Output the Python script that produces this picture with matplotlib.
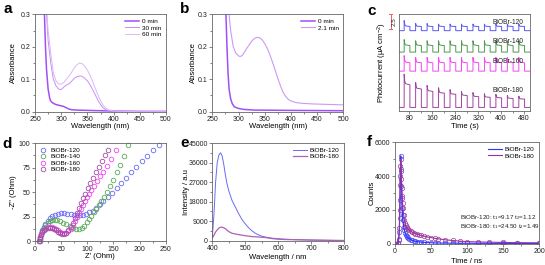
import matplotlib
matplotlib.use('Agg')
import matplotlib.pyplot as plt
from matplotlib.ticker import MultipleLocator

plt.rcParams['font.family'] = ['Liberation Sans', 'DejaVu Sans']
plt.rcParams['mathtext.fontset'] = 'custom'
plt.rcParams['mathtext.rm'] = 'Liberation Sans'
plt.rcParams['mathtext.it'] = 'Liberation Sans:italic'
plt.rcParams['mathtext.bf'] = 'Liberation Sans:bold'

# ---------------- data ----------------
# (a) absorbance, degradation
wl_a0 = [266, 268, 270, 272, 275, 278, 280, 283, 286, 290, 295, 300, 305, 310, 315, 320, 330, 350, 400, 450, 500]
abs_a0 = [0.36, 0.30, 0.20, 0.13, 0.07, 0.042, 0.033, 0.028, 0.025, 0.022, 0.020, 0.018, 0.016, 0.012, 0.008, 0.006, 0.005, 0.004, 0.002, 0.001, 0.001]
wl_a = [269, 272, 275, 280, 285, 290, 295, 300, 305, 310, 315, 320, 325, 330, 335, 340, 345, 350, 355, 360, 365, 370, 375, 380, 385, 390, 400, 420, 450, 500]
abs_a30 = [0.36, 0.30, 0.22, 0.15, 0.10, 0.080, 0.070, 0.068, 0.076, 0.082, 0.086, 0.094, 0.103, 0.108, 0.110, 0.109, 0.103, 0.095, 0.083, 0.068, 0.052, 0.036, 0.022, 0.012, 0.006, 0.003, 0.001, 0.0, 0.0, 0.0]
abs_a60 = [0.38, 0.32, 0.25, 0.18, 0.12, 0.095, 0.085, 0.085, 0.090, 0.100, 0.110, 0.122, 0.135, 0.145, 0.150, 0.148, 0.140, 0.128, 0.112, 0.093, 0.072, 0.052, 0.034, 0.020, 0.011, 0.006, 0.002, 0.001, 0.0, 0.0]

# (b)
wl_b0 = [275, 276, 278, 280, 282, 285, 288, 292, 300, 310, 330, 400, 500]
abs_b0 = [0.36, 0.30, 0.20, 0.12, 0.07, 0.040, 0.025, 0.015, 0.010, 0.007, 0.005, 0.004, 0.003]
wl_b = [280, 282, 285, 290, 295, 300, 303, 307, 310, 315, 320, 325, 330, 335, 340, 345, 350, 355, 360, 365, 370, 375, 380, 385, 390, 395, 400, 410, 420, 440, 460, 480, 500]
abs_b21 = [0.36, 0.30, 0.25, 0.20, 0.18, 0.172, 0.170, 0.173, 0.180, 0.193, 0.205, 0.217, 0.225, 0.229, 0.228, 0.222, 0.210, 0.195, 0.175, 0.152, 0.128, 0.103, 0.080, 0.060, 0.047, 0.038, 0.033, 0.028, 0.026, 0.024, 0.023, 0.022, 0.021]

# (c) photocurrent, on/off pulses (light on at each start, 20 s)
pulse_on = [62, 102, 142, 182, 222, 262, 302, 342, 382, 422, 462]
pulse_len = 20
c_names = ['BiOBr-120', 'BiOBr-140', 'BiOBr-160', 'BiOBr-180']
c_base = [13.5, 9.9, 6.7, 0.6]
c_spike = [
    [15.2, 14.7, 14.7, 14.6, 14.6, 14.6, 14.6, 14.6, 14.6, 14.6, 14.6],
    [12.0, 11.8, 11.8, 11.8, 11.8, 11.8, 11.8, 11.8, 11.8, 11.8, 11.8],
    [9.3, 9.0, 9.0, 9.0, 9.0, 9.0, 9.0, 9.0, 9.0, 9.0, 9.0],
    [6.2, 4.8, 4.3, 3.9, 3.6, 3.3, 3.1, 2.9, 2.8, 2.6, 2.5],
]
c_plateau = [
    [14.2, 14.2, 14.2, 14.2, 14.2, 14.2, 14.2, 14.2, 14.2, 14.2, 14.2],
    [11.0, 11.0, 11.0, 11.0, 11.0, 11.0, 11.0, 11.0, 11.0, 11.0, 11.0],
    [8.1, 8.1, 8.1, 8.1, 8.1, 8.1, 8.1, 8.1, 8.1, 8.1, 8.1],
    [4.4, 3.7, 3.3, 3.0, 2.8, 2.6, 2.4, 2.3, 2.2, 2.1, 2.0],
]

# (d) Nyquist
d120_x = [9, 10, 12, 14, 17, 20, 24, 28, 33, 38, 44, 50, 56, 62, 68, 74, 80, 86, 92, 98, 104, 110, 117, 124, 131, 139, 147, 156, 165, 174, 184, 194, 205, 215, 226, 237]
d120_y = [0, 3, 7, 11, 15, 18, 21, 23.5, 25.5, 27, 28, 28.5, 28.5, 28, 27.5, 27, 26.5, 26.5, 27, 28, 29.5, 31, 34, 37.5, 41, 45, 49, 54, 59, 64, 70, 75.5, 81.5, 87, 93, 98]
d140_x = [9, 10, 12, 14, 17, 20, 24, 28, 33, 38, 43, 48, 54, 60, 66, 72, 78, 84, 89, 94, 99, 104, 108, 113, 117, 122, 127, 132, 137, 143, 149, 156, 163, 170, 178]
d140_y = [0, 3, 7, 10.5, 14, 16.5, 19, 20.5, 21.5, 22, 21.5, 20.5, 19, 17.5, 15.5, 14, 13, 13, 14, 16, 19.5, 23, 26, 30, 33, 37, 41, 45.5, 50, 56, 62, 70, 78, 87, 98]
d160_x = [8, 9, 10, 12, 14, 17, 20, 24, 28, 32, 36, 40, 44, 48, 52, 56, 60, 64, 68, 72, 76, 80, 84, 88, 92, 96, 100, 104, 108, 113, 118, 124, 130, 137, 145, 155]
d160_y = [0, 2, 4, 7, 9.5, 11.5, 13, 14.5, 15, 15, 14, 12.5, 11, 9.5, 8.5, 8, 8.5, 10, 13, 17, 21, 25, 29, 33, 37, 41, 45, 48, 52, 56.5, 61, 66, 71, 77, 84, 93]
d180_x = [8, 9, 10, 12, 14, 17, 20, 24, 28, 32, 36, 40, 44, 48, 52, 56, 60, 64, 68, 72, 76, 80, 84, 88, 92, 96, 101, 106, 111, 116, 122, 128, 134, 139]
d180_y = [0, 2, 4, 6.5, 9, 11, 12.5, 13.5, 14, 13.5, 12.5, 11, 9.5, 8, 7.5, 7.5, 8.5, 11, 14.5, 19, 24, 29, 34, 39, 44, 48.5, 54, 59, 64.5, 70, 76, 82, 88, 93]

# (e) PL
pl_wl = [400, 405, 410, 415, 420, 425, 430, 435, 440, 445, 450, 460, 470, 480, 490, 500, 510, 520, 530, 540, 550, 560, 580, 600, 620, 650, 700, 750, 800]
pl_120 = [1500, 12000, 27000, 36000, 39500, 40500, 39000, 35000, 30000, 26000, 23000, 18500, 15500, 12500, 9800, 7800, 6000, 4600, 3500, 2700, 2100, 1700, 1200, 900, 700, 500, 300, 150, 50]
pl_180 = [1200, 2500, 4000, 5000, 5800, 6200, 6200, 5900, 5500, 4800, 4200, 3400, 3100, 2800, 2550, 2300, 2100, 1900, 1800, 1700, 1600, 1500, 1000, 700, 550, 450, 300, 200, 100]

# (f) TRPL
tr_t = [2, 4, 5, 6, 6.5, 7, 7.5, 8, 8.5, 9, 9.5, 10, 10.5, 11, 12, 13, 14, 15, 16, 17, 18, 20, 22, 24, 26, 28, 30, 33, 36, 40, 45, 50, 55, 60, 70, 80, 90, 100, 115, 130, 150, 170, 200]
tr_120 = [0, 30, 200, 700, 1500, 2600, 4000, 5200, 4300, 3400, 2700, 2100, 1700, 1400, 1000, 800, 650, 540, 460, 400, 350, 290, 240, 200, 170, 150, 130, 110, 95, 80, 65, 55, 48, 42, 35, 30, 27, 25, 22, 20, 18, 16, 15]
tr_180 = [0, 50, 300, 900, 2000, 3500, 4600, 5000, 4400, 3800, 3300, 2800, 2400, 2100, 1700, 1400, 1200, 1080, 980, 920, 870, 790, 730, 680, 640, 600, 570, 530, 490, 450, 400, 360, 320, 290, 230, 190, 150, 125, 105, 90, 75, 60, 50]

# ---------------- layout ----------------
W, H = 545, 265
fig = plt.figure(figsize=(5.45, 2.65), dpi=100)


def rect(l, r, t, b):
    return [l / W, 1 - b / H, (r - l) / W, (b - t) / H]


def style(ax):
    for s in ax.spines.values():
        s.set_linewidth(0.6)
        s.set_color('#666666')
    ax.tick_params(which='both', direction='out', width=0.5, color='#555555',
                   labelsize=5, pad=1.2, length=2, labelcolor='#222222')
    ax.tick_params(which='minor', length=1.2)


LFS = 5.5


def labels(ax, xl, yl, xy, yx):
    ax.set_xlabel(xl, fontsize=LFS, va='center')
    ax.set_ylabel(yl, fontsize=LFS, va='center')
    ax.xaxis.set_label_coords(0.5, xy)
    ax.yaxis.set_label_coords(yx, 0.5)


def leg(ax, **kw):
    opts = dict(frameon=False, fontsize=4.6, handlelength=2.2, handletextpad=0.5,
                labelspacing=0.15, borderaxespad=0.3)
    opts.update(kw)
    return ax.legend(**opts)


# (a)
axa = fig.add_axes(rect(35, 166, 14.3, 111.7))
axa.plot(wl_a0, abs_a0, color='#a050f5', lw=1.1, label='0 min')
axa.plot(wl_a, abs_a30, color='#c890f5', lw=0.7, label='30 min')
axa.plot(wl_a, abs_a60, color='#dcb6fa', lw=0.7, label='60 min')
axa.set_xlim(250, 500)
axa.set_ylim(0, 0.3)
axa.xaxis.set_major_locator(MultipleLocator(50))
axa.xaxis.set_minor_locator(MultipleLocator(25))
axa.yaxis.set_major_locator(MultipleLocator(0.1))
axa.yaxis.set_minor_locator(MultipleLocator(0.05))
style(axa)
labels(axa, 'Wavelength (nm)', 'Absorbance', -0.15, -0.166)
leg(axa, loc='upper right')

# (b)
axb = fig.add_axes(rect(212.3, 343.3, 14.3, 111.7))
axb.plot(wl_b0, abs_b0, color='#a050f5', lw=1.1, label='0 min')
axb.plot(wl_b, abs_b21, color='#cc99f5', lw=0.8, label='2.1 min')
axb.set_xlim(250, 500)
axb.set_ylim(0, 0.3)
axb.xaxis.set_major_locator(MultipleLocator(50))
axb.xaxis.set_minor_locator(MultipleLocator(25))
axb.yaxis.set_major_locator(MultipleLocator(0.1))
axb.yaxis.set_minor_locator(MultipleLocator(0.05))
style(axb)
labels(axb, 'Wavelength (nm)', 'Absorbance', -0.15, -0.142)
leg(axb, loc='upper right')

# (c)
axc = fig.add_axes(rect(399, 530, 14, 111))
c_colors = ['#5a5af5', '#4f9a4f', '#f545f5', '#a044a0']
c_lab_y = [14.8, 11.65, 8.3, 3.4]
for name, base, sp, pl, col, ly in zip(c_names, c_base, c_spike, c_plateau, c_colors, c_lab_y):
    xs, ys = [44], [base]
    for s, a, b in zip(pulse_on, sp, pl):
        xs += [s, s, s + 2, s + 5, s + pulse_len, s + pulse_len]
        ys += [base, a, b + 0.35 * (a - b), b + 0.1 * (a - b), b, base]
    xs.append(501)
    ys.append(base)
    axc.plot(xs, ys, color=col, lw=0.7)
    axc.text(479, ly, name, fontsize=4.8, ha='right', va='center', color='#222222')
axc.set_xlim(44, 501)
axc.set_ylim(0, 16.3)
axc.xaxis.set_major_locator(MultipleLocator(80))
axc.xaxis.set_minor_locator(MultipleLocator(40))
axc.set_yticks([])
style(axc)
labels(axc, 'Time (s)', 'Photocurrent (μA cm$^{-2}$)', -0.162, -0.13)
# scale bar 2.5
axc.plot([-0.062, -0.062], [13.8, 16.3], color='#f06060', lw=0.7, clip_on=False,
         transform=axc.get_yaxis_transform())
for yy in (13.8, 16.3):
    axc.plot([-0.074, -0.050], [yy, yy], color='#f06060', lw=0.7, clip_on=False,
             transform=axc.get_yaxis_transform())
axc.text(-0.035, 15.05, '2.5', rotation=90, fontsize=4.5, ha='center', va='center',
         transform=axc.get_yaxis_transform(), color='#222222')

# (d)
axd = fig.add_axes(rect(35, 165.7, 143, 241.3))
d_sets = [(d120_x, d120_y, '#6a6af5', 'BiOBr-120'), (d140_x, d140_y, '#5aaa5a', 'BiOBr-140'),
          (d160_x, d160_y, '#f545f5', 'BiOBr-160'), (d180_x, d180_y, '#a050a0', 'BiOBr-180')]
for xs, ys, col, name in d_sets:
    axd.plot(xs, ys, 'o', ms=3.3, mfc='none', mec=col, mew=0.6, label=name, clip_on=False)
axd.set_xlim(0, 250)
axd.set_ylim(0, 100)
axd.xaxis.set_major_locator(MultipleLocator(50))
axd.xaxis.set_minor_locator(MultipleLocator(25))
axd.yaxis.set_major_locator(MultipleLocator(25))
axd.yaxis.set_minor_locator(MultipleLocator(12.5))
style(axd)
labels(axd, "Z' (Ohm)", '-Z" (Ohm)', -0.153, -0.166)
leg(axd, loc='upper left', handlelength=1.2, handletextpad=0.6)

# (e)
axe = fig.add_axes(rect(212.3, 344, 143, 240.7))
axe.plot(pl_wl, pl_120, color='#6a6af5', lw=0.7, label='BiOBr-120')
axe.plot(pl_wl, pl_180, color='#b060b0', lw=0.9, label='BiOBr-180')
axe.set_xlim(400, 800)
axe.set_ylim(0, 45000)
axe.xaxis.set_major_locator(MultipleLocator(100))
axe.xaxis.set_minor_locator(MultipleLocator(50))
axe.yaxis.set_major_locator(MultipleLocator(9000))
axe.yaxis.set_minor_locator(MultipleLocator(4500))
style(axe)
labels(axe, 'Wavelength / nm', 'Intensity / a.u', -0.177, -0.194)
leg(axe, loc='upper right')

# (f)
axf = fig.add_axes(rect(395, 539, 142.3, 243.7))
axf.plot(tr_t, tr_120, 'o', ms=3.2, mfc='none', mec='#5050f0', mew=0.5)
axf.plot(tr_t, tr_180, 'o', ms=3.2, mfc='none', mec='#a040a0', mew=0.5)
axf.plot(tr_t, tr_120, color='#3030ff', lw=0.8, label='BiOBr-120')
axf.plot(tr_t, tr_180, color='#993399', lw=0.8, label='BiOBr-180')
axf.set_xlim(0, 200)
axf.set_ylim(0, 6000)
axf.xaxis.set_major_locator(MultipleLocator(50))
axf.xaxis.set_minor_locator(MultipleLocator(25))
axf.yaxis.set_major_locator(MultipleLocator(2000))
axf.yaxis.set_minor_locator(MultipleLocator(1000))
style(axf)
labels(axf, 'Time / ns', 'Counts', -0.174, -0.162)
leg(axf, loc='upper right')
axf.text(90, 1520, 'BiOBr-120: t$_1$=9.17 t$_2$=1.12', fontsize=4.5, va='center', color='#222222')
axf.text(90, 990, 'BiOBr-180: t$_1$=24.50 t$_2$=1.49', fontsize=4.5, va='center', color='#222222')

# panel letters
for ch, x, y in [('a', 3, 13.3), ('b', 180, 13.3), ('c', 367, 15), ('d', 2, 148),
                 ('e', 180, 147.3), ('f', 367, 146.3)]:
    fig.text(x / W, 1 - y / H, ch, fontsize=11, fontweight='bold', ha='left', va='baseline')

fig.savefig('out.png', dpi=100)
